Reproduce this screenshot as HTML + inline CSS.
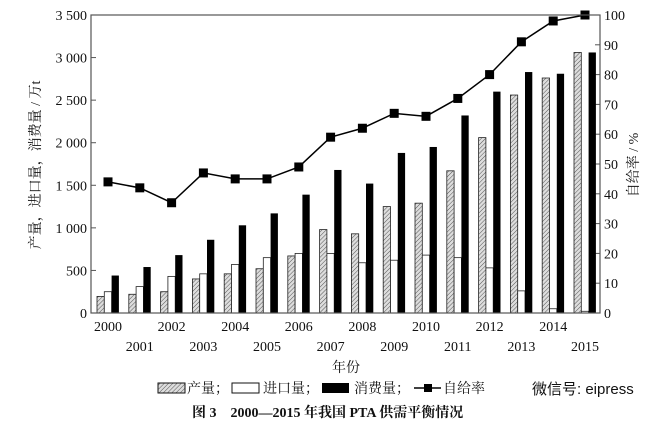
<!DOCTYPE html>
<html><head><meta charset="utf-8"><style>
body{margin:0;background:#fff}
text{font-family:"Liberation Serif","Noto Serif CJK SC",serif;fill:#111}
</style></head><body>
<svg id="s" width="656" height="424" xmlns="http://www.w3.org/2000/svg">
<defs><pattern id="h" width="3" height="3" patternUnits="userSpaceOnUse" patternTransform="rotate(45)"><rect width="3" height="3" fill="#ddd"/><line x1="0" y1="0" x2="0" y2="3" stroke="#555" stroke-width="1"/></pattern></defs>
<g id="g"></g>
<rect x="91" y="15" width="509" height="298" fill="none" stroke="#555" stroke-width="1.2"/>
<text x="0" y="0" transform="translate(40,165) rotate(-90)" text-anchor="middle" font-size="14">产量，进口量，消费量 / 万t</text>
<text x="0" y="0" transform="translate(638,165) rotate(-90)" text-anchor="middle" font-size="14">自给率 / %</text>
<text x="346" y="372" text-anchor="middle" font-size="14">年份</text>
<rect x="158" y="383" width="27" height="10" fill="url(#h)" stroke="#111"/>
<text x="187" y="393" font-size="14">产量；</text>
<rect x="232" y="383" width="27" height="10" fill="#fff" stroke="#111"/>
<text x="263" y="393" font-size="14">进口量；</text>
<rect x="322" y="383" width="27" height="10" fill="#000"/>
<text x="354" y="393" font-size="14">消费量；</text>
<line x1="414" y1="388" x2="441" y2="388" stroke="#000" stroke-width="1.5"/><rect x="424" y="384" width="8" height="8" fill="#000"/>
<text x="443" y="393" font-size="14">自给率</text>
<text x="532" y="394" font-size="15" style="font-family:'Liberation Sans','Noto Sans CJK SC',sans-serif" fill="#888">微信号: eipress</text>
<text x="192" y="417" font-size="14" font-weight="bold">图 3　2000—2015 年我国 PTA 供需平衡情况</text>
</svg>
<script>
var g=document.getElementById('g'),s='';
var P=[195,220,250,400,460,520,670,980,930,1250,1290,1670,2060,2560,2760,3060];
var I=[250,310,430,460,570,650,700,700,590,620,680,650,530,260,50,20];
var C=[440,540,680,860,1030,1170,1390,1680,1520,1880,1950,2320,2600,2830,2810,3060];
var R=[44,42,37,47,45,45,49,59,62,67,66,72,80,91,98,100];
function y(v){return 313-v*298/3500}
for(var k=0;k<=7;k++){var yy=313-k*298/7;
s+='<line x1="91" y1="'+yy+'" x2="96" y2="'+yy+'" stroke="#555"/>';
s+='<text x="87" y="'+(yy+5)+'" text-anchor="end" font-size="14">'+(k==0?'0':(k*500).toString().replace(/(\d)(\d{3})$/,'$1 $2'))+'</text>';}
for(var k=0;k<=10;k++){var yy=313-k*29.8;
s+='<line x1="595" y1="'+yy+'" x2="600" y2="'+yy+'" stroke="#555"/>';
s+='<text x="604" y="'+(yy+5)+'" font-size="14">'+(k*10)+'</text>';}
var pts=[];
for(var i=0;i<16;i++){var c=108+i*31.8,x0=c-11;
s+='<rect x="'+x0+'" y="'+y(P[i])+'" width="7.3" height="'+(313-y(P[i]))+'" fill="url(#h)" stroke="#222" stroke-width="0.8"/>';
s+='<rect x="'+(x0+7.3)+'" y="'+y(I[i])+'" width="7.3" height="'+(313-y(I[i]))+'" fill="#fff" stroke="#222" stroke-width="0.8"/>';
s+='<rect x="'+(x0+14.6)+'" y="'+y(C[i])+'" width="7.3" height="'+(313-y(C[i]))+'" fill="#000"/>';
pts.push(c+','+(313-R[i]*2.98));
s+='<text x="'+c+'" y="'+(i%2==0?331:351)+'" text-anchor="middle" font-size="14">'+(2000+i)+'</text>';}
s+='<polyline points="'+pts.join(' ')+'" fill="none" stroke="#000" stroke-width="1.5"/>';
pts.forEach(function(p){var a=p.split(',');s+='<rect x="'+(a[0]-4.5)+'" y="'+(a[1]-4.5)+'" width="9" height="9" fill="#000"/>';});
g.innerHTML=s;
</script>
</body></html>
